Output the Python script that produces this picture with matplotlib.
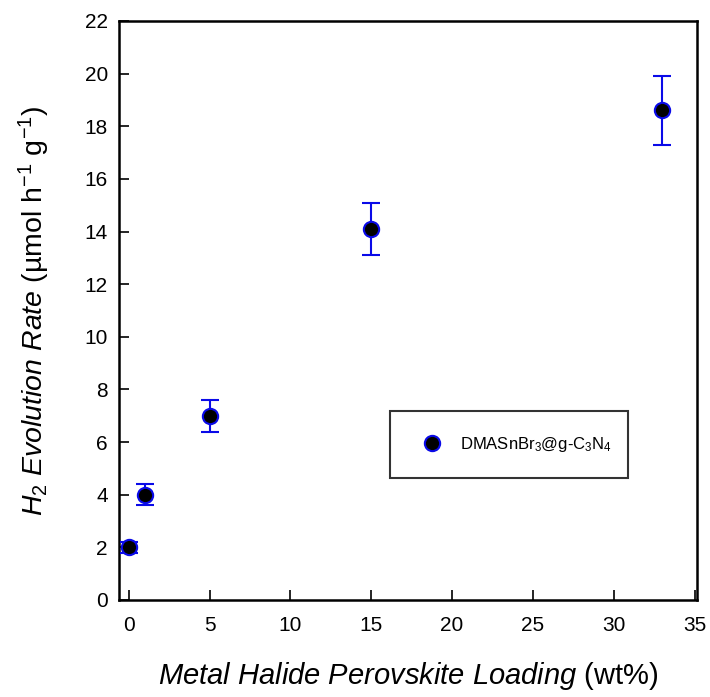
import matplotlib
matplotlib.use("Agg")
import matplotlib.pyplot as plt
from matplotlib.lines import Line2D

plt.rcParams['font.family'] = ['Liberation Sans', 'DejaVu Sans']
plt.rcParams['mathtext.fontset'] = 'custom'
plt.rcParams['mathtext.rm'] = 'Liberation Sans'
plt.rcParams['mathtext.it'] = 'Liberation Sans:italic'
plt.rcParams['mathtext.bf'] = 'Liberation Sans:bold'

loading = [0, 1, 5, 15, 33]
rate = [2.0, 4.0, 7.0, 14.1, 18.6]
err = [0.22, 0.4, 0.6, 1.0, 1.3]
series_label = "DMASnBr$_3$@g-C$_3$N$_4$"
xticks = [0, 5, 10, 15, 20, 25, 30, 35]
yticks = list(range(0, 23, 2))

BLUE = '#0a0ae8'

fig = plt.figure(figsize=(7.1, 6.97), dpi=100)
ax = fig.add_axes([0.1676, 0.1392, 0.8141, 0.8307])

ax.errorbar(loading, rate, yerr=err, fmt='o', color=BLUE, ecolor=BLUE,
            elinewidth=1.5, capsize=6.5, capthick=1.5,
            markerfacecolor='black', markeredgecolor=BLUE, markeredgewidth=1.5,
            markersize=11, zorder=3)

ax.set_xlim(-0.6, 35.15)
ax.set_ylim(0, 22)
ax.set_xticks(xticks)
ax.set_yticks(yticks)
ax.tick_params(direction='in', length=7, width=1.2, labelsize=15)
ax.tick_params(axis='x', pad=11.5)
ax.tick_params(axis='y', pad=8)
for s in ax.spines.values():
    s.set_linewidth(1.8)

ax.set_xlabel(r"$\mathit{Metal\ Halide\ Perovskite\ Loading}$ (wt%)", fontsize=21, labelpad=18)
ax.set_ylabel(r"$\mathit{H_2\ Evolution\ Rate}$ (µmol h$^{-1}$ g$^{-1}$)", fontsize=20.5)
ax.yaxis.set_label_coords(-0.116, 0.5)

handle = Line2D([], [], linestyle='none', marker='o', markersize=11,
                markerfacecolor='black', markeredgecolor=BLUE, markeredgewidth=1.5)
leg = ax.legend([handle], [series_label], loc='center',
                bbox_to_anchor=(0.469, 0.211, 0.412, 0.114), mode='expand',
                fancybox=False, edgecolor='black', fontsize=12,
                borderpad=1.44, handlelength=2.15, handletextpad=0.6, borderaxespad=0)
leg.get_frame().set_linewidth(1.5)

fig.savefig("out.png", dpi=100)
